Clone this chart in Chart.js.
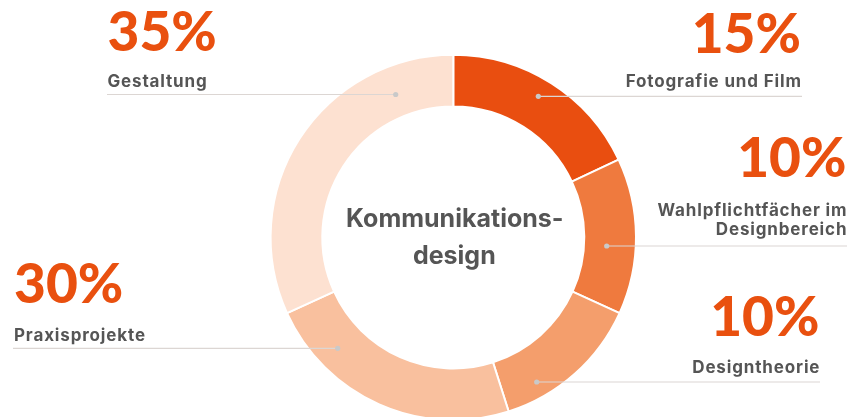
<!DOCTYPE html>
<html>
<head>
<meta charset="utf-8">
<script src="https://cdn.jsdelivr.net/npm/chart.js@4.4.1/dist/chart.umd.min.js"></script>
<style>
  html, body { margin: 0; padding: 0; background: #ffffff; }
  #wrap { width: 862px; height: 417px; position: relative; overflow: hidden; }
</style>
</head>
<body>
<div id="wrap"><canvas id="c" width="862" height="417"></canvas></div>
<script>
// ---- data ----
const categories = ['Fotografie und Film', 'Wahlpflichtfächer im Designbereich', 'Designtheorie', 'Praxisprojekte', 'Gestaltung'];
const nameLines = [['Fotografie und Film'], ['Wahlpflichtfächer im', 'Designbereich'], ['Designtheorie'], ['Praxisprojekte'], ['Gestaltung']];
const percentLabels = ['15%', '10%', '10%', '30%', '35%'];
const arcValues = [18, 13.8, 13.3, 23.1, 31.8];
const centerLines = ['Kommunikations-', 'design'];

// ---- style ----
const colors = ['#E94E10', '#EF7A3E', '#F49E6C', '#F9C09E', '#FDE1D1'];
const ORANGE = '#E9500F';
const GRAY = '#555555';
const LINE = '#DCD6D3';
const DOT = '#C9C9C9';
const PCT_FONT = 'Lato, "Open Sans", sans-serif';
const TXT_FONT = 'Inter, "Open Sans", sans-serif';
const NAME_SPACING = 0.85;

// label layout (pixels)
const labelLayout = [
  { align: 'right', x: 801,   pctY: 52.5,  nameY: [87.3],         lineY: 96.3,  lineEnd: 802, dotDx: 85 },
  { align: 'right', x: 846.5, pctY: 177.3, nameY: [215.5, 235.3], lineY: 246,   lineEnd: 847, dotDx: 153.4 },
  { align: 'right', x: 819.5, pctY: 336,   nameY: [372.7],        lineY: 382,   lineEnd: 820, dotDx: 83.4 },
  { align: 'left',  x: 14,    pctY: 303.3, nameY: [340.7],        lineY: 348.3, lineEnd: 13,  dotDx: -115.6 },
  { align: 'left',  x: 107.5, pctY: 50.7,  nameY: [87.3],         lineY: 94.5,  lineEnd: 107, dotDx: -57.6 }
];

const labelPlugin = {
  id: 'labels',
  afterDatasetsDraw(chart) {
    const ctx = chart.ctx;
    const meta = chart.getDatasetMeta(0);
    const cx = meta.data[0].x, cy = meta.data[0].y;
    ctx.save();
    // leader lines and dots
    labelLayout.forEach((l, i) => {
      const dx = cx + l.dotDx;
      ctx.strokeStyle = LINE;
      ctx.lineWidth = 1.2;
      ctx.beginPath();
      ctx.moveTo(dx, l.lineY);
      ctx.lineTo(l.lineEnd, l.lineY);
      ctx.stroke();
      ctx.fillStyle = DOT;
      ctx.beginPath();
      ctx.arc(dx, l.lineY, 2.6, 0, Math.PI * 2);
      ctx.fill();
    });
    // texts
    labelLayout.forEach((l, i) => {
      ctx.textAlign = l.align;
      ctx.textBaseline = 'alphabetic';
      ctx.letterSpacing = '0px';
      ctx.fillStyle = ORANGE;
      ctx.font = '900 55px ' + PCT_FONT;
      ctx.fillText(percentLabels[i], l.x, l.pctY);
      ctx.fillStyle = GRAY;
      ctx.font = 'bold 17px ' + TXT_FONT;
      ctx.letterSpacing = NAME_SPACING + 'px';
      const shift = l.align === 'right' ? NAME_SPACING : 0;
      nameLines[i].forEach((t, k) => ctx.fillText(t, l.x + shift, l.nameY[k]));
    });
    // center text
    ctx.letterSpacing = '0px';
    ctx.textAlign = 'center';
    ctx.fillStyle = GRAY;
    ctx.font = 'bold 25px ' + TXT_FONT;
    ctx.fillText(centerLines[0], cx + 1.5, 226.7);
    ctx.fillText(centerLines[1], cx + 1, 264);
    ctx.restore();
  }
};

new Chart(document.getElementById('c'), {
  type: 'doughnut',
  data: {
    labels: categories,
    datasets: [{
      data: arcValues,
      backgroundColor: colors,
      borderColor: '#ffffff',
      borderWidth: 2,
      radius: 182.7,
      cutout: '71.7%',
      clip: false
    }]
  },
  options: {
    responsive: false,
    animation: false,
    layout: { padding: { left: 44.6, right: 0, top: 57.8, bottom: 0 } },
    plugins: {
      legend: { display: false },
      title: { display: false },
      tooltip: { enabled: false }
    },
    events: []
  },
  plugins: [labelPlugin]
});
</script>
</body>
</html>
